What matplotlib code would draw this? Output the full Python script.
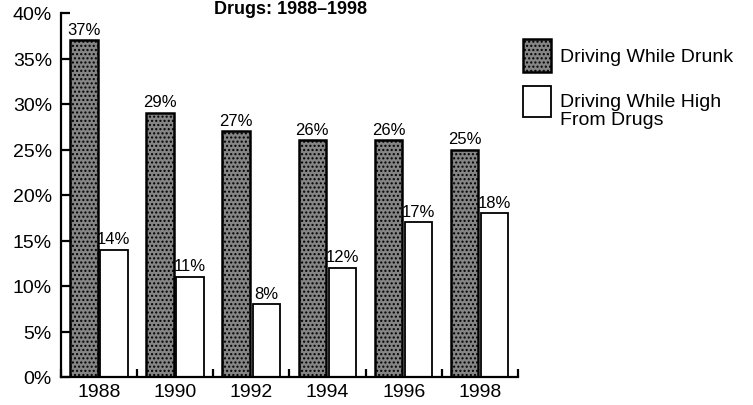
import matplotlib
matplotlib.use("Agg")
import matplotlib.pyplot as plt
from matplotlib.patches import Rectangle
from matplotlib.ticker import FixedLocator, NullFormatter
import numpy as np

# ── Data ──────────────────────────────────────────────────────────
years = ["1988", "1990", "1992", "1994", "1996", "1998"]
drunk = [37, 29, 27, 26, 26, 25]
high = [14, 11, 8, 12, 17, 18]
series_labels = ["Driving While Drunk", "Driving While High\nFrom Drugs"]
y_ticks = [0, 5, 10, 15, 20, 25, 30, 35, 40]

plt.rcParams["font.family"] = ["Liberation Sans", "DejaVu Sans"]

W, H = 753, 406
fig = plt.figure(figsize=(W / 100, H / 100), dpi=100)
ax = fig.add_axes([61 / W, 28 / H, 457 / W, 364 / H])

x = np.arange(len(years))
bw = 0.36
dark_kw = dict(facecolor="#858585", edgecolor="black", linewidth=1.8, hatch="....")
light_kw = dict(facecolor="white", edgecolor="black", linewidth=1.3)

b1 = ax.bar(x - 0.2, drunk, bw, **dark_kw)
b2 = ax.bar(x + 0.195, high, bw, **light_kw)

for bars, vals in [(b1, drunk), (b2, high)]:
    for rect, v in zip(bars, vals):
        ax.text(rect.get_x() + rect.get_width() / 2, v + 0.4, f"{v}%",
                ha="center", va="bottom", fontsize=12)

# ── Axes styling ──────────────────────────────────────────────────
ax.set_xlim(-0.5, 5.5)
ax.set_ylim(0, 40)
for side in ["top", "right"]:
    ax.spines[side].set_visible(False)
for side in ["left", "bottom"]:
    ax.spines[side].set_linewidth(1.6)

ax.set_yticks(y_ticks)
ax.set_yticklabels([f"{t}%" for t in y_ticks])
ax.tick_params(axis="y", direction="in", length=6.5, width=1.6, pad=6.5, labelsize=14)

ax.set_xticks(x)
ax.set_xticklabels(years)
ax.tick_params(axis="x", which="major", length=0, pad=4, labelsize=14)
ax.xaxis.set_minor_locator(FixedLocator(np.arange(-0.5, 6, 1.0)))
ax.xaxis.set_minor_formatter(NullFormatter())
ax.tick_params(axis="x", which="minor", direction="in", length=6, width=1.6)

# ── Title ─────────────────────────────────────────────────────────
fig.text(290 / W, 1 - 1 / H, "Drugs: 1988\u20131998", ha="center", va="top",
         fontsize=13, fontweight="bold")

# ── Legend ────────────────────────────────────────────────────────
fig.patches.append(Rectangle((523 / W, 1 - 73 / H), 28 / W, 33 / H,
                             transform=fig.transFigure, figure=fig, **dark_kw))
fig.patches.append(Rectangle((523 / W, 1 - 118 / H), 28 / W, 31 / H,
                             transform=fig.transFigure, figure=fig, **light_kw))
fig.text(560 / W, 1 - 57 / H, series_labels[0], ha="left", va="center", fontsize=14)
fig.text(560 / W, 1 - 94 / H, series_labels[1], ha="left", va="top", fontsize=14,
         linespacing=1.05)

fig.savefig("out.png", dpi=100)
